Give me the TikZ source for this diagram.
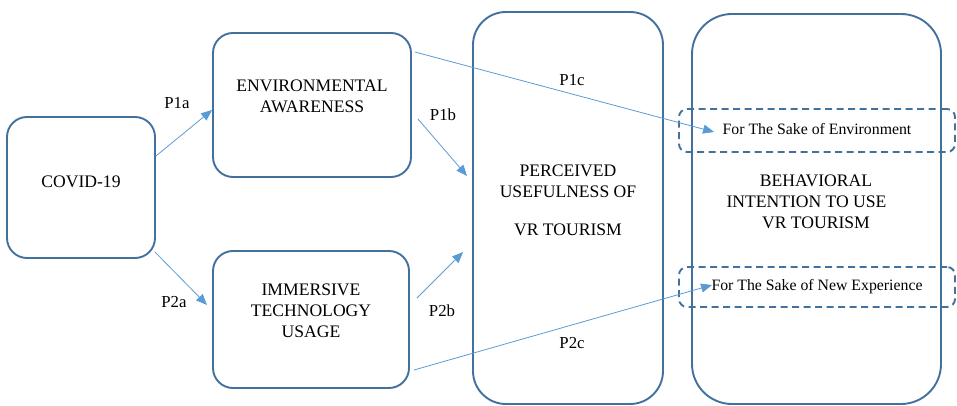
\documentclass[tikz,border=0pt]{standalone}
\usepackage{fontspec}
\setmainfont{Liberation Serif}
\usetikzlibrary{arrows.meta,calc}
\definecolor{boxblue}{HTML}{41719C}
\definecolor{arrblue}{HTML}{5B9BD5}
\begin{document}
\begin{tikzpicture}[x=1pt,y=-1pt,
  box/.style={draw=boxblue,line width=1.9pt,rounded corners=20pt,inner sep=0pt},
  dbox/.style={draw=boxblue,line width=1.9pt,rounded corners=8pt,dash pattern=on 7pt off 4.5pt,inner sep=0pt},
  arr/.style={draw=arrblue,line width=0.8pt,-{Triangle[length=11pt,width=9pt]}},
  txt/.style={font=\fontsize{17.6}{21}\selectfont,align=center,inner sep=0pt},
  stxt/.style={font=\fontsize{15.8}{19}\selectfont,inner sep=0pt},
  lbl/.style={font=\fontsize{16.8}{20}\selectfont,inner sep=0pt}]
\useasboundingbox (0,0) rectangle (957,406);
% boxes
\node[box,minimum width=148pt,minimum height=141pt] (covid) at (81,187.5) {};
\node[box,minimum width=198pt,minimum height=144pt] (env) at (312,105) {};
\node[box,minimum width=196pt,minimum height=137pt] (imm) at (311,319.5) {};
\node[box,rounded corners=33pt,minimum width=190pt,minimum height=392pt] (pu) at (568,208) {};
\node[box,rounded corners=40pt,minimum width=249pt,minimum height=390pt] (bi) at (816.5,209) {};
\node[dbox,minimum width=276pt,minimum height=43pt] (d1) at (817,130.5) {};
\node[dbox,minimum width=276pt,minimum height=40pt] (d2) at (817,287) {};
% texts
\node[txt] (tcovid) at (81,182) {COVID-19};
\node[txt] (tenv) at (312,96.5) {ENVIRONMENTAL\\AWARENESS};
\node[txt] (timm) at (311,310.5) {IMMERSIVE\\TECHNOLOGY\\USAGE};
\node[txt] (tpu) at (568,200) {PERCEIVED\\USEFULNESS OF\\[17pt]VR TOURISM};
\node[txt] (tbi) at (816,202) {BEHAVIORAL\\INTENTION TO USE\rule{19pt}{0pt}\\VR TOURISM};
\node[stxt] (td1) at (817,129) {For The Sake of Environment};
\node[stxt] (td2) at (817,287) {For The Sake of New Experience};
% labels
\node[lbl] (l1a) at (177,103) {P1a};
\node[lbl] (l2a) at (174,302) {P2a};
\node[lbl] (l1b) at (443,115) {P1b};
\node[lbl] (l2b) at (442,311) {P2b};
\node[lbl] (l1c) at (572,80) {P1c};
\node[lbl] (l2c) at (572,343) {P2c};
% arrows
\draw[arr] ([yshift=31.5pt]covid.east) -- ([yshift=-5pt]env.west);
\draw[arr] ([xshift=-1pt,yshift=-64.5pt]covid.east) -- ([xshift=-5pt,yshift=14.5pt]imm.west);
\draw[arr] ([xshift=6pt,yshift=-14pt]env.east) -- ([xshift=-5pt,yshift=32pt]pu.west);
\draw[arr] ([xshift=7pt,yshift=21.5pt]imm.east) -- ([xshift=-9pt,yshift=-44pt]pu.west);
\draw[arr] ([xshift=3pt,yshift=53pt]env.east) -- ([xshift=36pt,yshift=-1.5pt]d1.west);
\draw[arr] ([xshift=4pt,yshift=-50.5pt]imm.east) -- ([xshift=34pt,yshift=2pt]d2.west);
\end{tikzpicture}
\end{document}
